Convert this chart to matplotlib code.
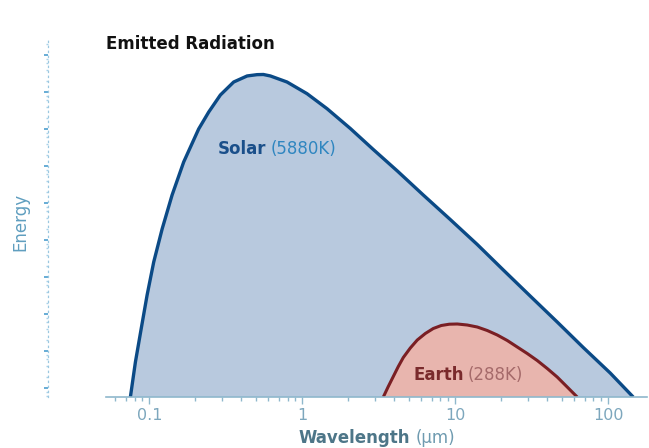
import matplotlib
matplotlib.use("Agg")
import matplotlib.pyplot as plt
from matplotlib.ticker import LogLocator, NullFormatter, FixedLocator, FixedFormatter

# wavelength (um) and energy
solar_wl = [0.0751, 0.0810, 0.0883, 0.0966, 0.1067, 0.1211, 0.1407, 0.1675, 0.2099,
            0.2443, 0.2911, 0.3556, 0.4353, 0.5058, 0.556, 0.618, 0.794, 1.073,
            1.450, 2.06, 2.91, 4.18, 6.18, 9.27, 13.93, 20.6, 30.9, 46.4, 68.7,
            103.1, 145.7]
solar_energy = [0.0571, 0.505, 3.94, 32.6, 254, 1983, 1.64e4, 1.28e5, 1.0e6,
                2.88e6, 8.3e6, 1.86e7, 2.71e7, 2.94e7, 2.97e7, 2.71e7, 1.86e7, 9.0e6,
                3.54e6, 1.03e6, 2.79e5, 7.33e4, 1.64e4, 3.58e3, 755, 155, 30.6, 6.08, 1.243,
                0.254, 0.0571]

earth_wl = [3.384, 3.648, 3.933, 4.241, 4.572, 5.08, 5.643, 6.367, 7.18, 8.1, 9.14,
            10.31, 11.98, 13.93, 16.19, 18.82, 21.88, 25.42, 29.55, 34.35, 39.93,
            46.4, 53.95, 62.7]
earth_energy = [0.0571, 0.110, 0.2046, 0.381, 0.667, 1.205, 1.983, 2.972, 4.057, 4.89,
                5.30, 5.37, 5.04, 4.45, 3.58, 2.707, 1.922, 1.283, 0.856, 0.553, 0.3365,
                0.198, 0.1064, 0.0571]

x_ticks = [0.1, 1, 10, 100]
x_tick_labels = ["0.1", "1", "10", "100"]

plt.rcParams['font.family'] = ['DejaVu Sans']

fig = plt.figure(figsize=(6.49, 4.48), dpi=100)
ax = fig.add_axes([0.1633, 0.1138, 0.834, 0.8036])

ax.set_xscale('log')
ax.set_yscale('log')
ax.set_xlim(0.052, 180)
ax.set_ylim(0.0571, 3.06e8)

ax.fill(solar_wl, solar_energy, color='#b8c9de', lw=0, zorder=1)
ax.plot(solar_wl, solar_energy, color='#0b4a86', lw=2.4, zorder=2,
        solid_capstyle='butt', solid_joinstyle='round')
ax.fill(earth_wl, earth_energy, color='#e8b5ae', lw=0, zorder=3)
ax.plot(earth_wl, earth_energy, color='#7a1f24', lw=2.2, zorder=4,
        solid_capstyle='butt', solid_joinstyle='round')

for s in ['top', 'right']:
    ax.spines[s].set_visible(False)
ax.spines['bottom'].set_color('#8fb8cc')
ax.spines['bottom'].set_linewidth(1.2)
ax.spines['bottom'].set_zorder(5)

ax.spines['left'].set_position(('outward', 41.8))
ax.spines['left'].set_color('#9cc8e0')
ax.spines['left'].set_linestyle((0, (1, 3)))
ax.spines['left'].set_linewidth(0.9)

ax.xaxis.set_major_locator(FixedLocator(x_ticks))
ax.xaxis.set_major_formatter(FixedFormatter(x_tick_labels))
ax.xaxis.set_minor_locator(LogLocator(base=10, subs=range(2, 10)))
ax.xaxis.set_minor_formatter(NullFormatter())
ax.tick_params(axis='x', which='major', direction='out', length=5, width=1,
               color='#8fb8cc', labelcolor='#7da7bd', labelsize=11.5, pad=3)
ax.tick_params(axis='x', which='minor', direction='out', length=3, width=1,
               color='#8fb8cc')

ax.yaxis.set_major_locator(LogLocator(base=10, numticks=20))
ax.yaxis.set_minor_locator(LogLocator(base=10, subs=[2, 4, 6, 8], numticks=20))
ax.yaxis.set_major_formatter(NullFormatter())
ax.yaxis.set_minor_formatter(NullFormatter())
ax.tick_params(axis='y', which='major', direction='out', length=3, width=1.3,
               color='#5aa6d2')
ax.tick_params(axis='y', which='minor', direction='out', length=1.2, width=1.0,
               color='#a9d2ea')

fig.text(0.017, 0.505, 'Energy', rotation=90, ha='left', va='center',
         fontsize=12, color='#5f9ebf')

# x axis label, bold part + normal part
fig.text(0.632, 0.022, 'Wavelength', ha='right', va='center',
         fontsize=12, fontweight='bold', color='#4d7688')
fig.text(0.641, 0.022, '(\u00b5m)', ha='left', va='center',
         fontsize=12, color='#6f9bb0')

fig.text(0.163, 0.902, 'Emitted Radiation', ha='left', va='center',
         fontsize=12, fontweight='bold', color='#111111')

ax.text(0.278, 2.88e5, 'Solar', ha='left', va='center', fontsize=12,
        fontweight='bold', color='#1a4f8a', zorder=6)
ax.text(0.618, 2.88e5, '(5880K)', ha='left', va='center', fontsize=12,
        color='#2f86c0', zorder=6)
ax.text(5.31, 0.224, 'Earth', ha='left', va='center', fontsize=12,
        fontweight='bold', color='#7a2a2c', zorder=6)
ax.text(11.98, 0.224, '(288K)', ha='left', va='center', fontsize=12,
        color='#a56a6a', zorder=6)

fig.savefig('out.png', dpi=100)
